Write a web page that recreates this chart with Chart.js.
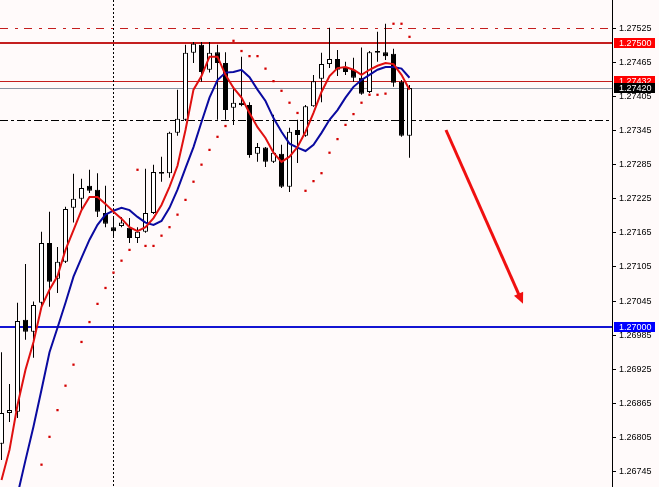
<!DOCTYPE html>
<html>
<head>
<meta charset="utf-8">
<script src="https://cdn.jsdelivr.net/npm/chart.js@4.4.1/dist/chart.umd.min.js"></script>
<style>
  html, body { margin: 0; padding: 0; background: #fffafa; }
  #wrap { width: 659px; height: 487px; position: relative; }
</style>
</head>
<body>
<div id="wrap"><canvas id="c"></canvas></div>
<script>
// --- candles (one per bar) ---
const open = [
  1.26794, 1.26848, 1.26850, 1.27012, 1.26991, 1.27042, 1.27147, 1.27084, 1.27114, 1.27209,
  1.27225, 1.27248, 1.27241, 1.27200, 1.27175, 1.27177, 1.27174, 1.27156, 1.27167, 1.27200,
  1.27272, 1.27270, 1.27341, 1.27364, 1.27482, 1.27496, 1.27452, 1.27483, 1.27464, 1.27385,
  1.27394, 1.27390, 1.27304, 1.27315, 1.27290, 1.27304, 1.27246, 1.27346, 1.27336, 1.27388,
  1.27436, 1.27462, 1.27471, 1.27455, 1.27452, 1.27438, 1.27413, 1.27485, 1.27483, 1.27480,
  1.27431, 1.27336
];
const high = [
  1.26955, 1.26899, 1.27042, 1.27110, 1.27044, 1.27167, 1.27202, 1.27140, 1.27211, 1.27269,
  1.27260, 1.27276, 1.27270, 1.27248, 1.27193, 1.27193, 1.27191, 1.27175, 1.27278, 1.27285,
  1.27299, 1.27343, 1.27417, 1.27496, 1.27501, 1.27501, 1.27501, 1.27496, 1.27483, 1.27422,
  1.27475, 1.27395, 1.27323, 1.27316, 1.27373, 1.27320, 1.27350, 1.27364, 1.27390, 1.27443,
  1.27482, 1.27526, 1.27487, 1.27466, 1.27473, 1.27491, 1.27485, 1.27519, 1.27533, 1.27489,
  1.27434, 1.27425
];
const low = [
  1.26765, 1.26832, 1.26839, 1.26977, 1.26945, 1.27035, 1.27035, 1.27059, 1.27112, 1.27183,
  1.27207, 1.27235, 1.27193, 1.27175, 1.27158, 1.27175, 1.27147, 1.27147, 1.27165, 1.27198,
  1.27255, 1.27262, 1.27336, 1.27362, 1.27464, 1.27431, 1.27447, 1.27364, 1.27364, 1.27355,
  1.27388, 1.27297, 1.27290, 1.27281, 1.27288, 1.27244, 1.27237, 1.27288, 1.27334, 1.27387,
  1.27395, 1.27455, 1.27441, 1.27443, 1.27431, 1.27408, 1.27411, 1.27466, 1.27469, 1.27422,
  1.27334, 1.27297
];
const close = [
  1.26848, 1.26853, 1.27010, 1.26991, 1.27038, 1.27147, 1.27079, 1.27114, 1.27207, 1.27225,
  1.27244, 1.27239, 1.27202, 1.27181, 1.27168, 1.27183, 1.27156, 1.27167, 1.27200, 1.27272,
  1.27269, 1.27341, 1.27366, 1.27482, 1.27498, 1.27448, 1.27482, 1.27464, 1.27381, 1.27394,
  1.27390, 1.27302, 1.27316, 1.27290, 1.27306, 1.27246, 1.27343, 1.27337, 1.27388, 1.27432,
  1.27462, 1.27471, 1.27452, 1.27448, 1.27438, 1.27410, 1.27483, 1.27482, 1.27476, 1.27429,
  1.27336, 1.27420
];

// indicators
const maFast = [
  1.26730, 1.26783, 1.26862, 1.26924, 1.26973, 1.27035, 1.27065, 1.27089, 1.27135, 1.27170,
  1.27205, 1.27228, 1.27228, 1.27216, 1.27202, 1.27190, 1.27175, 1.27168, 1.27175, 1.27191,
  1.27214, 1.27246, 1.27283, 1.27346, 1.27417, 1.27441, 1.27475, 1.27475, 1.27443, 1.27420,
  1.27403, 1.27376, 1.27351, 1.27332, 1.27306, 1.27290, 1.27299, 1.27316, 1.27343, 1.27376,
  1.27413, 1.27441, 1.27455, 1.27457, 1.27452, 1.27443, 1.27452, 1.27459, 1.27464, 1.27462,
  1.27443, 1.27417
];
const maSlow = [
  1.26581, 1.26642, 1.26704, 1.26765, 1.26824, 1.26889, 1.26955, 1.26998, 1.27042, 1.27088,
  1.27121, 1.27153, 1.27179, 1.27197, 1.27204, 1.27209, 1.27205, 1.27193, 1.27183, 1.27179,
  1.27186, 1.27209, 1.27241, 1.27279, 1.27316, 1.27360, 1.27403, 1.27434, 1.27447, 1.27448,
  1.27452, 1.27439, 1.27417, 1.27397, 1.27367, 1.27343, 1.27322, 1.27315, 1.27309, 1.27320,
  1.27341, 1.27364, 1.27381, 1.27403, 1.27422, 1.27434, 1.27443, 1.27452, 1.27457, 1.27457,
  1.27454, 1.27438
];
const sar = [
  null, null, null, null, null, 1.26757, 1.26806, 1.26853, 1.26896, 1.26933,
  1.26973, 1.27008, 1.27040, 1.27068, 1.27095, 1.27116, 1.27135, 1.27276, 1.27142, 1.27142,
  1.27160, 1.27175, 1.27197, 1.27223, 1.27255, 1.27285, 1.27311, 1.27334, 1.27353, 1.27503,
  1.27485, 1.27476, 1.27476, 1.27454, 1.27432, 1.27415, 1.27394, 1.27376, 1.27239, 1.27256,
  1.27270, 1.27306, 1.27330, 1.27355, 1.27374, 1.27394, 1.27408, 1.27408, 1.27410, 1.27533,
  1.27533, 1.27510
];

// price axis
const yTicks = [1.26745, 1.26805, 1.26865, 1.26925, 1.26985, 1.27045, 1.27105,
                1.27165, 1.27225, 1.27285, 1.27345, 1.27405, 1.27465, 1.27525];
const yMin = 1.267177, yMax = 1.275748;
const xMin = -0.1875, xMax = 76.3125;

// horizontal lines: price, colour, width, dash, label colour (null = no label)
const levels = [
  [1.27525, '#c41e1e', 1, [8, 7, 3, 6], null],
  [1.27500, '#c41e1e', 2, [], '#ff0000'],
  [1.27432, '#c41e1e', 1, [], '#ff0000'],
  [1.27420, '#8a94a4', 1, [], '#000000'],
  [1.27364, '#000000', 1, [8, 3, 3, 3], null],
  [1.27000, '#1414d2', 2, [], '#0000ff']
];
const vLineBar = 14;
const arrowFrom = [55.56, 1.27346];
const arrowTo = [65.19, 1.27040];

const bars = open.map((_, i) => i);
const pts = arr => bars.map(i => ({ x: i, y: arr[i] }));

const overlay = {
  id: 'overlay',
  beforeDraw(chart) {
    const { ctx, width, height } = chart;
    ctx.save();
    ctx.fillStyle = '#fffafa';
    ctx.fillRect(0, 0, width, height);
    ctx.restore();
  },
  beforeDatasetsDraw(chart) {
    const { ctx, chartArea: a, scales: { x, y } } = chart;
    ctx.save();
    for (const [p, col, w, dash] of levels) {
      const py = Math.round(y.getPixelForValue(p)) + (w % 2 ? 0.5 : 0);
      ctx.strokeStyle = col;
      ctx.lineWidth = w;
      ctx.setLineDash(dash);
      ctx.beginPath();
      ctx.moveTo(a.left, py);
      ctx.lineTo(a.right, py);
      ctx.stroke();
    }
    const vx = Math.floor(x.getPixelForValue(vLineBar)) + 0.5;
    ctx.strokeStyle = '#000';
    ctx.lineWidth = 1;
    ctx.setLineDash([2, 2]);
    ctx.beginPath();
    ctx.moveTo(vx, a.top);
    ctx.lineTo(vx, a.bottom);
    ctx.stroke();
    ctx.restore();
  },
  afterDatasetsDraw(chart) {
    const { ctx, scales: { x, y } } = chart;
    const x1 = x.getPixelForValue(arrowFrom[0]), y1 = y.getPixelForValue(arrowFrom[1]);
    const x2 = x.getPixelForValue(arrowTo[0]), y2 = y.getPixelForValue(arrowTo[1]);
    const ang = Math.atan2(y2 - y1, x2 - x1);
    const head = 11;
    ctx.save();
    ctx.strokeStyle = '#f01010';
    ctx.fillStyle = '#f01010';
    ctx.lineWidth = 3;
    ctx.beginPath();
    ctx.moveTo(x1, y1);
    ctx.lineTo(x2 - head * 0.8 * Math.cos(ang), y2 - head * 0.8 * Math.sin(ang));
    ctx.stroke();
    ctx.beginPath();
    ctx.moveTo(x2, y2);
    ctx.lineTo(x2 - head * Math.cos(ang) + 5 * Math.sin(ang), y2 - head * Math.sin(ang) - 5 * Math.cos(ang));
    ctx.lineTo(x2 - head * Math.cos(ang) - 5 * Math.sin(ang), y2 - head * Math.sin(ang) + 5 * Math.cos(ang));
    ctx.closePath();
    ctx.fill();
    ctx.restore();
  },
  afterDraw(chart) {
    const { ctx, chartArea: a, scales: { y } } = chart;
    ctx.save();
    ctx.font = '9px "Liberation Sans", Arial, sans-serif';
    ctx.textBaseline = 'middle';
    for (const [p, , , , box] of levels) {
      if (!box) continue;
      const py = Math.round(y.getPixelForValue(p));
      ctx.fillStyle = box;
      ctx.fillRect(a.right + 2, py - 5, 41, 10);
      ctx.fillStyle = '#fff';
      ctx.fillText(p.toFixed(5), a.right + 7, py + 0.5);
    }
    ctx.restore();
  }
};

new Chart(document.getElementById('c'), {
  type: 'bar',
  data: {
    datasets: [
      {
        type: 'line', label: 'SAR', order: 0,
        data: pts(sar), showLine: false,
        pointStyle: 'rect', pointRadius: 1.6, pointBorderWidth: 0,
        pointBackgroundColor: '#d40000'
      },
      {
        type: 'line', label: 'MA fast', order: 1,
        data: pts(maFast), borderColor: '#e01010', borderWidth: 2,
        pointRadius: 0, tension: 0
      },
      {
        type: 'line', label: 'MA slow', order: 2,
        data: pts(maSlow), borderColor: '#0a0aa0', borderWidth: 2,
        pointRadius: 0, tension: 0
      },
      {
        label: 'body', order: 3,
        data: bars.map(i => ({ x: i, y: [open[i], close[i]] })),
        backgroundColor: bars.map(i => close[i] >= open[i] ? '#ffffff' : '#000000'),
        borderColor: '#000', borderWidth: 1, borderSkipped: false,
        barThickness: 5, grouped: false, inflateAmount: 0
      },
      {
        label: 'wick', order: 4,
        data: bars.map(i => ({ x: i, y: [low[i], high[i]] })),
        backgroundColor: '#000', borderWidth: 0,
        barThickness: 1, grouped: false, inflateAmount: 0
      }
    ]
  },
  options: {
    responsive: true,
    maintainAspectRatio: false,
    animation: false,
    layout: { padding: 0, autoPadding: false },
    plugins: { legend: { display: false }, tooltip: { enabled: false } },
    scales: {
      x: { type: 'linear', display: false, min: xMin, max: xMax, offset: false },
      y: {
        position: 'right', min: yMin, max: yMax, beginAtZero: false,
        afterBuildTicks: s => { s.ticks = yTicks.map(v => ({ value: v })); },
        afterFit: s => { s.width = 47; s.paddingTop = 0; s.paddingBottom = 0; },
        grid: { drawOnChartArea: false, drawTicks: true, tickLength: 4, color: '#000' },
        border: { display: true, color: '#000', width: 1 },
        ticks: {
          autoSkip: false, padding: 3, color: '#000',
          font: { family: '"Liberation Sans", Arial, sans-serif', size: 9 },
          callback: v => v.toFixed(5)
        }
      }
    }
  },
  plugins: [overlay]
});
</script>
</body>
</html>
